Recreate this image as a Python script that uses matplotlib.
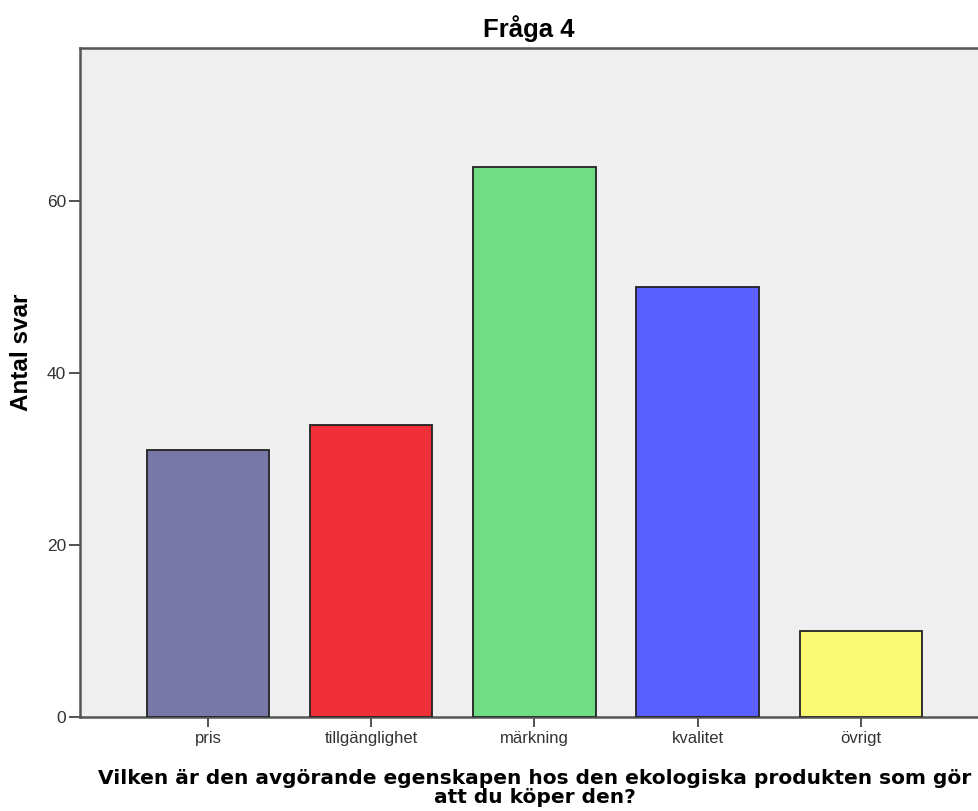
import matplotlib
matplotlib.use('Agg')
import matplotlib.pyplot as plt
import numpy as np

# survey answers, question 4
categories = ['pris', 'tillgänglighet', 'märkning', 'kvalitet', 'övrigt']
counts = [31, 34, 64, 50, 10]
bar_colors = ['#7878A8', '#F03038', '#70DC84', '#5A5FFF', '#FBF874']
y_ticks = [0, 20, 40, 60]

plt.rcParams['font.family'] = ['Liberation Sans', 'DejaVu Sans']

fig = plt.figure(figsize=(9.79, 8.11), dpi=100)
ax = fig.add_axes([0.0817, 0.1159, 0.9283, 0.8249])
ax.set_facecolor('#EFEFEF')

x = np.arange(len(categories))
ax.bar(x, counts, width=0.75, color=bar_colors, edgecolor='#222222', linewidth=1.3, zorder=3)

ax.set_xlim(-0.785, 4.785)
ax.set_ylim(0, 77.8)
ax.set_xticks(x)
ax.set_xticklabels(categories, fontsize=12, color='#333333')
ax.set_yticks(y_ticks)
ax.set_yticklabels([str(v) for v in y_ticks], fontsize=12.5, color='#333333')
ax.tick_params(axis='y', length=8, width=1.3, color='#444444', pad=2)
ax.tick_params(axis='x', length=7, width=1.3, color='#444444', pad=3)

for side in ['left', 'top', 'bottom']:
    ax.spines[side].set_color('#555555')
    ax.spines[side].set_linewidth(1.8)
ax.spines['right'].set_visible(False)

ax.set_title('Fråga 4', fontsize=18.5, fontweight='bold', pad=8, x=0.494)
fig.text(0.022, 0.566, 'Antal svar', rotation=90, ha='center', va='center',
         fontsize=17.5, fontweight='bold')
fig.text(0.5465, 0.028,
         'Vilken är den avgörande egenskapen hos den ekologiska produkten som gör\natt du köper den?',
         ha='center', va='center', fontsize=14.5, fontweight='bold', linespacing=0.98,
         family=['DejaVu Sans'])

fig.savefig('out.png', dpi=100)
